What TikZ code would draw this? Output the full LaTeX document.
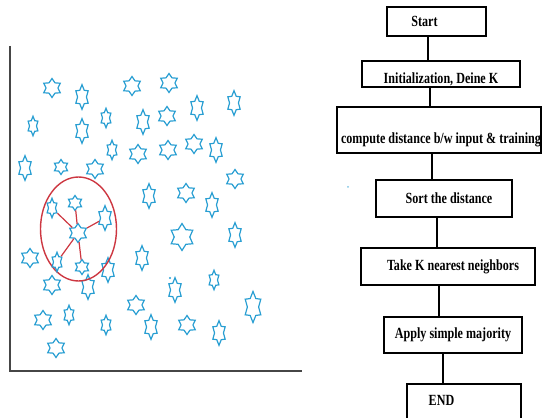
\documentclass[tikz,border=0pt]{standalone}
\usepackage{fontspec}
\usepackage{tikz}
\usetikzlibrary{shapes.geometric,calc}
\newfontfamily\boxfont[FakeStretch=0.78]{Liberation Serif}
\definecolor{starblue}{RGB}{40,158,210}
\definecolor{ringred}{RGB}{205,55,65}
\definecolor{axisgray}{RGB}{70,70,70}

\begin{document}
\begin{tikzpicture}[x=1pt,y=1pt]
        \tikzstyle{every label}=[font=\boxfont\bfseries\fontsize{15.5}{18}\selectfont,inner sep=0pt]
        \tikzstyle{pt}=[star,star points=6,star point ratio=1.6,draw=starblue,line width=1.2pt,inner sep=0pt,minimum size=19pt]
        \tikzstyle{tall}=[xscale=0.75,yscale=1.3]
        \tikzstyle{small}=[minimum size=15pt]
        \tikzstyle{big}=[minimum size=27pt,xscale=0.92]
        \tikzstyle{box}=[draw,line width=1.2pt,inner sep=0pt]
        \tikzstyle{link}=[line width=2pt]
        \useasboundingbox (0,0) rectangle (542,418);

        %%% Points
        \coordinate (ytop) at (10,372);
        \coordinate (origin) at (10,47);
        \coordinate (xend) at (302,47);
        \draw[axisgray,line width=2pt] (ytop) -- (origin) -- (xend);

        \node[pt] (s1) at (52,330) {};
        \node[pt,tall] (s2) at (82,321) {};
        \node[pt] (s3) at (132,332) {};
        \node[pt] (s4) at (169,335) {};
        \node[pt,tall] (s5) at (234,315) {};
        \node[pt,small,tall] (s6) at (33,292) {};
        \node[pt,tall] (s7) at (82,287) {};
        \node[pt,small,tall] (s8) at (106,300) {};
        \node[pt,tall] (s9) at (143,296) {};
        \node[pt] (s10) at (167,302) {};
        \node[pt,tall] (s11) at (197,310) {};
        \node[pt,small,tall] (s12) at (112,268) {};
        \node[pt] (s13) at (138,264) {};
        \node[pt,tall] (s14) at (25,250) {};
        \node[pt,small] (s15) at (61,251) {};
        \node[pt] (s16) at (95,249) {};
        \node[pt] (s17) at (168,268) {};
        \node[pt] (s18) at (194,274) {};
        \node[pt,tall] (s19) at (216,268) {};
        \node[pt] (s20) at (235,239) {};
        \node[pt,tall] (s21) at (149,222) {};
        \node[pt] (s22) at (186,225) {};
        \node[pt,tall] (s23) at (212,213) {};
        \node[pt,big] (s24) at (182,181) {};
        \node[pt,tall] (s25) at (235,183) {};
        \node[pt,tall] (s26) at (142,160) {};
        \node[pt,small,tall] (s27) at (214,138) {};
        \node[pt,tall] (s28) at (175,128) {};
        \node[pt] (s29) at (136,113) {};
        \node[pt,minimum size=24pt,tall] (s30) at (253,111) {};
        \node[pt,tall] (s31) at (151,91) {};
        \node[pt] (s32) at (187,93) {};
        \node[pt,tall] (s33) at (219,85) {};
        \node[pt] (s34) at (30,160) {};
        \node[pt,tall] (s35) at (108,148) {};
        \node[pt] (s36) at (52,133) {};
        \node[pt,tall] (s37) at (88,131) {};
        \node[pt] (s38) at (43,98) {};
        \node[pt,small,tall] (s39) at (69,103) {};
        \node[pt,small,tall] (s40) at (106,93) {};
        \node[pt] (s41) at (56,70) {};
        \fill[starblue] (170,140) circle (1.2pt);
        \fill[starblue!60] (348,231) circle (1pt);

        % query point and its neighbours
        \draw[ringred,line width=1.4pt] (78.5,189) ellipse (38 and 52);
        \node[pt] (c0) at (78,185) {};
        \node[pt,small,tall] (n1) at (52,210) {};
        \node[pt,small] (n2) at (75,215) {};
        \node[pt,tall] (n3) at (105,200) {};
        \node[pt,small,tall] (n4) at (57,156) {};
        \node[pt,small] (n5) at (82,151) {};
        \draw[ringred,line width=1.2pt] (c0) -- (n1);
        \draw[ringred,line width=1.2pt] (c0) -- (n2);
        \draw[ringred,line width=1.2pt] (c0) -- (n3);
        \draw[ringred,line width=1.2pt] (c0) -- (n4);
        \draw[ringred,line width=1.2pt] (c0) -- (n5);

        %%% Flowchart
        \node[box,minimum width=99pt,minimum height=29pt,label={[xshift=-12pt]center:Start}] (start) at (436.5,396.5) {};
        \node[box,minimum width=158pt,minimum height=26pt,label={[yshift=-5pt]center:Initialization, Deine K}] (init) at (441,344) {};
        \node[box,minimum width=204pt,minimum height=46pt,label={[xshift=2pt,yshift=-10pt]center:compute distance b/w input \& training}] (dist) at (439,288) {};
        \node[box,minimum width=136pt,minimum height=37pt,label={[xshift=5pt]center:Sort the distance}] (sort) at (444,219.5) {};
        \node[box,minimum width=174pt,minimum height=37pt,label={[xshift=5pt]center:Take K nearest neighbors}] (knn) at (448,151.5) {};
        \node[box,minimum width=138pt,minimum height=36pt,label={center:Apply simple majority}] (vote) at (453,83) {};
        \node[box,minimum width=114pt,minimum height=42pt,label={[xshift=-22.5pt,yshift=5pt]center:END}] (stop) at (464,13) {};

        \draw[link] ([xshift=-8.5pt]start.south) -- ([xshift=-8.5pt]start.south |- init.north);
        \draw[link] ([xshift=-11pt]init.south) -- ([xshift=-11pt]init.south |- dist.north);
        \draw[link] ([xshift=-7pt]dist.south) -- ([xshift=-7pt]dist.south |- sort.north);
        \draw[link] ([xshift=-7pt]sort.south) -- ([xshift=-7pt]sort.south |- knn.north);
        \draw[link] ([xshift=-9pt]knn.south) -- ([xshift=-9pt]knn.south |- vote.north);
        \draw[link] ([xshift=-10pt]vote.south) -- ([xshift=-10pt]vote.south |- stop.north);
\end{tikzpicture}
\end{document}
